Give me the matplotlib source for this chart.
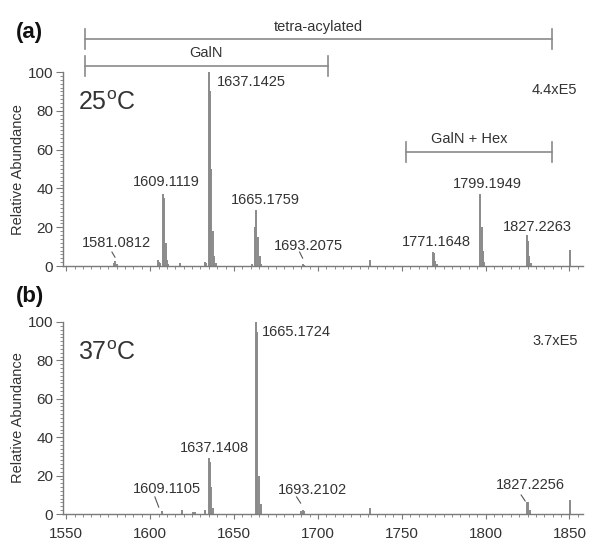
import matplotlib
matplotlib.use("Agg")
import matplotlib.pyplot as plt
from matplotlib.ticker import MultipleLocator

plt.rcParams["font.family"] = ["Liberation Sans", "DejaVu Sans"]
plt.rcParams["mathtext.fontset"] = "custom"
plt.rcParams["mathtext.rm"] = "Liberation Sans"

# --- spectrum (a), 25 C: m/z positions and relative abundance ---
mz_a = [1578.5, 1579.2, 1580.0,
        1604.5, 1605.2, 1606.0, 1607.8, 1608.5, 1609.3, 1610.0, 1610.8,
        1618.0,
        1632.5, 1633.5, 1635.0, 1635.6, 1636.4, 1637.2, 1638.0, 1639.0,
        1661.0, 1662.6, 1663.2, 1664.2, 1665.2, 1666.0,
        1691.0, 1692.0,
        1731.3,
        1768.5, 1769.3, 1770.0, 1771.0,
        1796.8, 1797.6, 1798.5, 1799.3,
        1824.5, 1825.2, 1826.0, 1827.0,
        1850.5]
int_a = [1.5, 2.5, 1.0,
         3.0, 2.0, 1.5, 37.0, 35.0, 12.0, 3.0, 1.0,
         1.5,
         2.0, 1.5, 100.0, 90.0, 50.0, 18.0, 5.0, 1.5,
         1.0, 20.0, 29.0, 15.0, 5.0, 1.0,
         1.0, 0.8,
         3.0,
         7.0, 6.5, 2.5, 1.0,
         37.0, 20.0, 8.0, 2.0,
         16.0, 13.0, 5.0, 1.5,
         8.5]

# --- spectrum (b), 37 C ---
mz_b = [1607.2, 1618.8, 1625.5, 1626.5, 1632.5,
        1635.0, 1635.6, 1636.5, 1637.5,
        1663.0, 1663.6, 1665.0, 1666.0,
        1690.0, 1691.0, 1692.0,
        1731.3,
        1824.5, 1825.3, 1826.2,
        1850.5]
int_b = [1.5, 2.0, 1.2, 1.0, 2.0,
         29.0, 27.0, 14.0, 3.0,
         100.0, 95.0, 20.0, 5.0,
         1.5, 2.0, 1.5,
         3.0,
         6.0, 6.0, 2.0,
         7.5]

# peak labels: text, label x, label y, leader line (x0, y0, x1, y1) or None
labels_a = [
    ("1581.0812", 1580.1, 11.9, (1577.2, 7.2, 1579.0, 4.6)),
    ("1609.1119", 1609.9, 43.3, None),
    ("1637.1425", 1639.7, 94.8, None),
    ("1665.1759", 1668.8, 34.0, None),
    ("1693.2075", 1694.4, 10.3, (1689.1, 7.2, 1690.9, 4.1)),
    ("1771.1648", 1770.6, 12.4, None),
    ("1799.1949", 1801.0, 42.3, None),
    ("1827.2263", 1830.7, 20.1, None),
]
labels_b = [
    ("1609.1105", 1609.9, 13.0, (1602.8, 8.9, 1605.1, 3.6)),
    ("1637.1408", 1638.5, 34.4, None),
    ("1665.1724", 1666.5, 94.8, None),
    ("1693.2102", 1696.8, 12.5, (1687.3, 8.9, 1689.7, 5.7)),
    ("1827.2256", 1826.6, 15.1, (1821.2, 9.9, 1823.6, 6.8)),
]
left_aligned = {"1637.1425", "1665.1724"}

# m/z ranges of the compound classes marked above panel (a)
brackets = [
    ("tetra-acylated", 1561.0, 1839.7, 117.0),
    ("GalN", 1561.0, 1706.0, 103.1),
    ("GalN + Hex", 1752.8, 1839.7, 58.8),
]

BAR = "#8a8a8a"
TXT = "#333333"
AXC = "#7a7a7a"

fig = plt.figure(figsize=(6.01, 5.52), dpi=100)
ax_a = fig.add_axes([0.1048, 0.518, 0.865, 0.3514])
ax_b = fig.add_axes([0.1048, 0.0688, 0.865, 0.3479])


def style(ax, show_xlabels):
    ax.set_xlim(1548, 1858)
    ax.set_ylim(0, 100)
    for s in ("top", "right"):
        ax.spines[s].set_visible(False)
    for s in ("left", "bottom"):
        ax.spines[s].set_color(AXC)
        ax.spines[s].set_linewidth(1.0)
    ax.xaxis.set_major_locator(MultipleLocator(50))
    ax.xaxis.set_minor_locator(MultipleLocator(5))
    ax.yaxis.set_major_locator(MultipleLocator(20))
    ax.yaxis.set_minor_locator(MultipleLocator(2))
    ax.tick_params(axis="both", which="major", direction="out", length=5,
                   width=0.8, color=AXC, labelsize=11, labelcolor=TXT, pad=2)
    ax.tick_params(axis="both", which="minor", direction="out", length=2.5,
                   width=0.6, color=AXC)
    ax.tick_params(axis="x", which="major", length=3.5, pad=6)
    if not show_xlabels:
        ax.tick_params(axis="x", labelbottom=False)
    ax.set_ylabel("Relative Abundance", fontsize=10.5, color=TXT)
    ax.yaxis.set_label_coords(-0.073, 0.5)


def draw_labels(ax, labels):
    for text, x, y, leader in labels:
        ha = "left" if text in left_aligned else "center"
        ax.text(x, y, text, ha=ha, va="center", fontsize=10.5, color=TXT)
        if leader is not None:
            ax.plot([leader[0], leader[2]], [leader[1], leader[3]],
                    color="#555555", lw=0.8)


style(ax_a, False)
style(ax_b, True)

ax_a.vlines(mz_a, 0, int_a, color=BAR, lw=1.4)
ax_b.vlines(mz_b, 0, int_b, color=BAR, lw=1.4)

draw_labels(ax_a, labels_a)
draw_labels(ax_b, labels_b)

for name, x0, x1, y in brackets:
    ax_a.plot([x0, x1], [y, y], color="#8a8a8a", lw=1.2, clip_on=False)
    for xe in (x0, x1):
        ax_a.plot([xe, xe], [y - 5.0, y + 5.0], color="#8a8a8a", lw=1.2,
                  clip_on=False)
    ax_a.text((x0 + x1) / 2 if name != "GalN + Hex" else 1790.3, y + 6.5,
              name, ha="center", va="center", fontsize=10.5, color=TXT,
              clip_on=False)

ax_a.text(0.029, 0.84, r"25$^{\mathrm{o}}$C", transform=ax_a.transAxes,
          fontsize=18, color=TXT, ha="left", va="center")
ax_b.text(0.029, 0.84, r"37$^{\mathrm{o}}$C", transform=ax_b.transAxes,
          fontsize=18, color=TXT, ha="left", va="center")
ax_a.text(0.946, 0.907, "4.4xE5", transform=ax_a.transAxes,
          fontsize=10.5, color=TXT, ha="center", va="center")
ax_b.text(0.946, 0.90, "3.7xE5", transform=ax_b.transAxes,
          fontsize=10.5, color=TXT, ha="center", va="center")

fig.text(0.026, 0.942, "(a)", fontsize=16, fontweight="bold", color="#111111",
         ha="left", va="center")
fig.text(0.026, 0.462, "(b)", fontsize=16, fontweight="bold", color="#111111",
         ha="left", va="center")

fig.savefig("out.png", dpi=100, facecolor="white")
